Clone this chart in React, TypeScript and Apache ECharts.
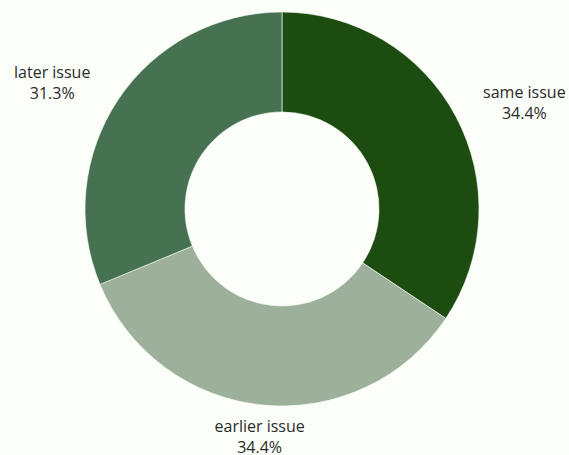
import React, { useEffect, useRef } from "react";
import * as echarts from "echarts";

const categories = ["same issue", "earlier issue", "later issue"];
const values = [11, 11, 10];
const colors = ["#1d4c11", "#9cb09b", "#467252"];

export default function App() {
  const ref = useRef<HTMLDivElement>(null);
  useEffect(() => {
    document.body.style.margin = "0";
    const chart = echarts.init(ref.current!, null, { renderer: "svg" });
    const total = values.reduce((a, b) => a + b, 0);
    chart.setOption({
      animation: false,
      backgroundColor: "#fcfef9",
      series: [
        {
          type: "pie",
          center: [282, 209],
          radius: [97, 197],
          startAngle: 90,
          clockwise: true,
          avoidLabelOverlap: false,
          data: categories.map((c, i) => ({
            name: c,
            value: values[i],
            itemStyle: { color: colors[i] },
          })),
          itemStyle: { borderColor: "#fcfef9", borderWidth: 0.6 },
          label: {
            show: true,
            position: "outside",
            fontFamily: "Open Sans",
            fontSize: 16,
            lineHeight: 21,
            color: "#2a2a2a",
            formatter: (p: any) =>
              `${p.name}\n${((p.value / total) * 100).toFixed(1)}%`,
          },
          labelLine: {
            show: true,
            length: 31,
            length2: 0,
            lineStyle: { width: 0, opacity: 0 },
          },
          emphasis: { disabled: true },
          labelLayout: (params: any) => {
            const pts = params.labelLinePoints;
            if (!pts) return {};
            const w = params.labelRect.width;
            const ax = pts[1][0];
            const ay = pts[1][1];
            const cx = 282;
            let x = ax;
            if (Math.abs(ax - cx) > 40) {
              x = ax > cx ? ax + w / 2 : ax - w / 2 - 2;
            }
            return { x, y: ay + 0.5, align: "center", verticalAlign: "middle" };
          },
        },
      ],
    });
    return () => chart.dispose();
  }, []);
  return <div ref={ref} style={{ width: 569, height: 455 }} />;
}
